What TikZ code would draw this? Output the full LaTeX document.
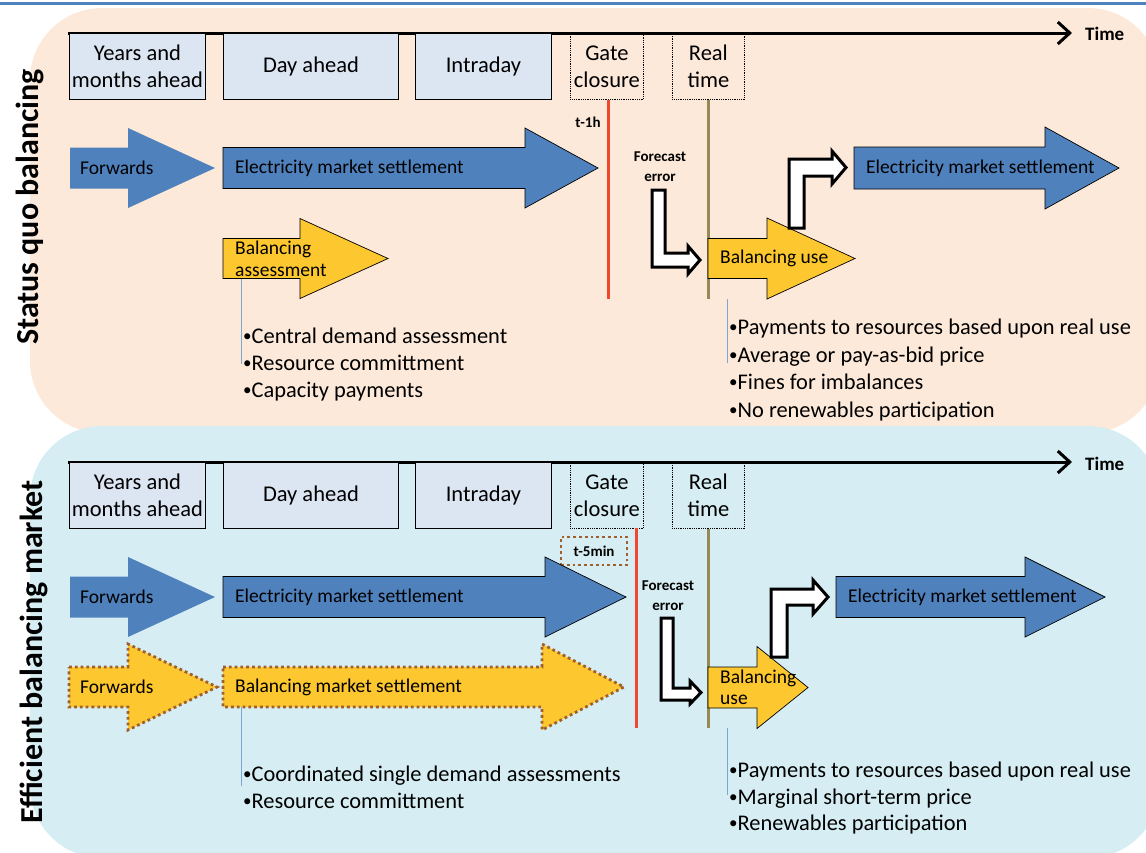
\documentclass[tikz,border=0pt]{standalone}
\usepackage{fontspec}
\setmainfont{Carlito}
\usetikzlibrary{arrows.meta}
\definecolor{peach}{HTML}{FDE9D9}
\definecolor{aqua}{HTML}{D6EEF3}
\definecolor{boxfill}{HTML}{DCE6F2}
\definecolor{barblue}{HTML}{4F81BD}
\definecolor{barygold}{HTML}{FDC72F}
\definecolor{gateRed}{HTML}{F0472E}
\definecolor{olive}{HTML}{948A54}
\definecolor{dotbrown}{HTML}{A0602C}
\definecolor{leadblue}{HTML}{7EA6D4}
\newcommand\barrow[7]{\path[#1] (#2,#5-#6) -- (#3,#5-#6) -- (#3,#5-#7) -- (#4,#5) -- (#3,#5+#7) -- (#3,#5+#6) -- (#2,#5+#6) -- cycle;}
\newcommand\bdot{{\fontsize{17}{17}\selectfont\raisebox{1.3pt}{•}}}
\begin{document}
\begin{tikzpicture}[x=1pt,y=-1pt,
  tbox/.style={draw=black, line width=0.9pt, fill=boxfill, inner sep=0pt, align=center, font=\fontsize{22.5}{27}\selectfont},
  gbox/.style={draw=black, densely dotted, line width=0.8pt, inner sep=0pt, align=center, font=\fontsize{22.5}{27}\selectfont},
  arrtxt/.style={anchor=west, inner sep=0pt, font=\fontsize{19.5}{22}\selectfont, align=left},
  bul/.style={anchor=base west, inner sep=0pt, font=\fontsize{22.4}{26}\selectfont},
  sbold/.style={inner sep=0pt, align=center, font=\bfseries\fontsize{15}{20}\selectfont},
  side/.style={rotate=90, inner sep=0pt, font=\bfseries\fontsize{32}{34}\selectfont},
  timelbl/.style={inner sep=0pt, font=\bfseries\fontsize{19}{22}\selectfont, anchor=west},
  timeline/.style={line width=3pt, -{Straight Barb[length=12pt,width=22pt]}},
  bluearr/.style={fill=barblue},
  bluearrb/.style={fill=barblue, draw=black, line width=0.7pt},
  goldarr/.style={fill=barygold, draw=black, line width=0.7pt},
  goldarrd/.style={fill=barygold, draw=dotbrown, line width=2.8pt, dash pattern=on 2.8pt off 3pt},
  bent/.style={fill=white, draw=black, line width=3pt, line join=miter},
  lead/.style={draw=leadblue, line width=1pt},
  redline/.style={draw=gateRed, line width=3pt},
  oliveline/.style={draw=olive, line width=3pt}]
\useasboundingbox (0,0) rectangle (1146,852);
% panels
\fill[peach, rounded corners=72pt] (30,8) rectangle (1160,433);
\fill[aqua, rounded corners=72pt] (30,426) rectangle (1160,858);
\draw[barblue, line width=3pt] (0,3) -- (1146,3);

% ================= TOP PANEL =================
\node[side] (t1) at (30,207) {Status quo balancing};
\coordinate (tl1s) at (68,33);
\coordinate (tl1e) at (1072,33);
\draw[timeline] (tl1s) -- (tl1e);
\node[timelbl] (time1) at (1085,34) {Time};
\node[tbox, minimum width=136pt, minimum height=66pt, anchor=north west] (ya1) at (69,33) {Years and\\months ahead};
\node[tbox, minimum width=175pt, minimum height=66pt, anchor=north west] (da1) at (223,33) {Day ahead};
\node[tbox, minimum width=136pt, minimum height=66pt, anchor=north west] (id1) at (415,33) {Intraday};
\node[gbox, minimum width=73pt, minimum height=66pt, anchor=north west] (gc1) at (570,33) {Gate\\closure};
\node[gbox, minimum width=72pt, minimum height=66pt, anchor=north west] (rt1) at (672,33) {Real\\time};
\coordinate (red1b) at (608,299);
\coordinate (ol1b) at (708,299);
\draw[redline] (gc1.south -| red1b) -- (red1b);
\draw[oliveline] (rt1.south -| ol1b) -- (ol1b);
\node[sbold] (tm1) at (588,122) {t-1h};

\barrow{bluearr}{70}{128}{215}{168}{20.5}{40}
\node[arrtxt] (fw1) at (80,168) {Forwards};
\barrow{bluearrb}{223}{525}{598}{168}{20.5}{40}
\node[arrtxt] (ems1) at (235,168) {Electricity market settlement};
\barrow{goldarr}{223}{300}{388}{258.5}{20}{40}
\node[arrtxt] (ba1) at (235,258.5) {Balancing\\assessment};

\node[sbold] (fe1) at (660,167) {Forecast\\error};
\draw[bent] (652,190) -- (665,190) -- (665,253) -- (688,253) -- (688,246) -- (700,260) -- (688,274) -- (688,267) -- (652,267) -- cycle;

\barrow{goldarr}{708}{767}{855}{258.5}{20}{40.5}
\node[arrtxt] (bu1) at (720,258.5) {Balancing use};
\draw[bent] (789,228) -- (789,159) -- (832,159) -- (832,151) -- (846,167.5) -- (832,184) -- (832,176) -- (804,176) -- (804,228) -- cycle;
\barrow{bluearrb}{854}{1045}{1119}{168}{21}{41}
\node[arrtxt] (ems1r) at (866,168) {Electricity market settlement};

\coordinate (l1a) at (241,279);
\coordinate (l1b) at (241,364);
\draw[lead] (l1a) -- (l1b);
\node[bul] (b11) at (243,343) {\bdot Central demand assessment};
\node[bul] (b12) at (243,370) {\bdot Resource committment};
\node[bul] (b13) at (243,397) {\bdot Capacity payments};

\coordinate (l2a) at (727,299);
\coordinate (l2b) at (727,363);
\draw[lead] (l2a) -- (l2b);
\node[bul] (b21) at (729,334) {\bdot Payments to resources based upon real use};
\node[bul] (b22) at (729,362) {\bdot Average or pay-as-bid price};
\node[bul] (b23) at (729,389) {\bdot Fines for imbalances};
\node[bul] (b24) at (729,417) {\bdot No renewables participation};

% ================= BOTTOM PANEL =================
\node[side] (t2) at (34,652) {Efficient balancing market};
\coordinate (tl2s) at (68,462);
\coordinate (tl2e) at (1072,462);
\draw[timeline] (tl2s) -- (tl2e);
\node[timelbl] (time2) at (1085,464) {Time};
\node[tbox, minimum width=136pt, minimum height=66pt, anchor=north west] (ya2) at (69,462) {Years and\\months ahead};
\node[tbox, minimum width=175pt, minimum height=66pt, anchor=north west] (da2) at (223,462) {Day ahead};
\node[tbox, minimum width=136pt, minimum height=66pt, anchor=north west] (id2) at (415,462) {Intraday};
\node[gbox, minimum width=73pt, minimum height=66pt, anchor=north west] (gc2) at (570,462) {Gate\\closure};
\node[gbox, minimum width=72pt, minimum height=66pt, anchor=north west] (rt2) at (672,462) {Real\\time};
\coordinate (red2t) at (636,528);
\coordinate (red2b) at (636,728);
\coordinate (ol2b) at (708,728);
\draw[redline] (red2t) -- (red2b);
\draw[oliveline] (rt2.south -| ol2b) -- (ol2b);
\node[sbold, draw=dotbrown, line width=2.8pt, dash pattern=on 2.8pt off 3pt, minimum width=66pt, minimum height=28pt] (tm2) at (594,551) {t-5min};

\barrow{bluearr}{70}{128}{215}{597}{20.5}{40}
\node[arrtxt] (fw2) at (80,597) {Forwards};
\barrow{bluearrb}{223}{545}{626}{597}{20.5}{40}
\node[arrtxt] (ems2) at (235,597) {Electricity market settlement};

\barrow{goldarrd}{69}{128}{217}{687}{20}{43}
\node[arrtxt] (fw3) at (80,687) {Forwards};
\barrow{goldarrd}{223}{542}{624}{687}{20}{43}
\node[arrtxt] (bms) at (235,687) {Balancing market settlement};

\node[sbold] (fe2) at (668,596) {Forecast\\error};
\draw[bent] (661,618) -- (673,618) -- (673,688) -- (690,688) -- (690,681) -- (701,692.5) -- (690,704) -- (690,700) -- (661,700) -- cycle;

\barrow{goldarr}{708}{757}{808}{687.5}{20.5}{41}
\node[arrtxt, font=\fontsize{19.5}{21}\selectfont] (bu2) at (720,687.5) {Balancing\\use};
\draw[bent] (771,657) -- (771,589) -- (813,589) -- (813,580) -- (828,597) -- (813,614) -- (813,605) -- (787,605) -- (787,657) -- cycle;
\barrow{bluearrb}{836}{1025}{1105}{597}{20.5}{40}
\node[arrtxt] (ems2r) at (848,597) {Electricity market settlement};

\coordinate (l3a) at (241,707);
\coordinate (l3b) at (241,786);
\draw[lead] (l3a) -- (l3b);
\node[bul] (b31) at (243,781) {\bdot Coordinated single demand assessments};
\node[bul] (b32) at (243,808) {\bdot Resource committment};

\coordinate (l4a) at (727,728);
\coordinate (l4b) at (727,795);
\draw[lead] (l4a) -- (l4b);
\node[bul] (b41) at (729,777) {\bdot Payments to resources based upon real use};
\node[bul] (b42) at (729,804) {\bdot Marginal short-term price};
\node[bul] (b43) at (729,830) {\bdot Renewables participation};
\end{tikzpicture}
\end{document}
